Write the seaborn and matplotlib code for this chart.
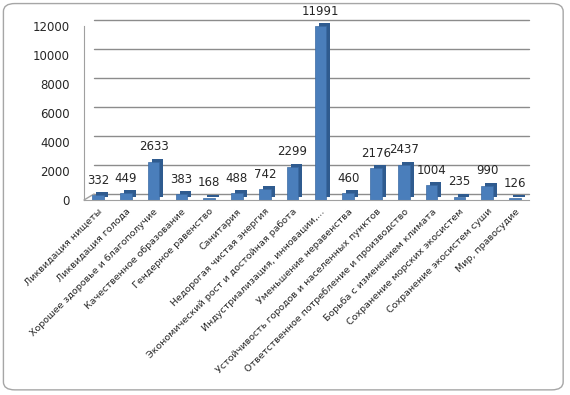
import pandas as pd
import numpy as np
import seaborn as sns
import matplotlib.pyplot as plt
from matplotlib.patches import FancyBboxPatch
from matplotlib.transforms import ScaledTranslation

# -------------------------
# data
# -------------------------
goals = [
    'Ликвидация нищеты',
    'Ликвидация голода',
    'Хорошее здоровье и благополучие',
    'Качественное образование',
    'Гендерное равенство',
    'Санитария',
    'Недорогая чистая энергия',
    'Экономический рост и достойная работа',
    'Индустриализация, инновации,...',
    'Уменьшение неравенства',
    'Устойчивость городов и населенных пунктов',
    'Ответственное потребление и производство',
    'Борьба с изменением климата',
    'Сохранение морских экосистем',
    'Сохранение экосистем суши',
    'Мир, правосудие',
]
counts = [332, 449, 2633, 383, 168, 488, 742, 2299, 11991, 460, 2176, 2437, 1004, 235, 990, 126]
yticks = [0, 2000, 4000, 6000, 8000, 10000, 12000]

df = pd.DataFrame({'goal': goals, 'count': counts})

# -------------------------
# figure
# -------------------------
sns.set_style('white')
plt.rcParams['font.family'] = ['DejaVu Sans']

fig = plt.figure(figsize=(5.7, 3.95), dpi=100)
ax = fig.add_axes([84 / 570, 1 - 200 / 395, 445 / 570, 174 / 395])

# rounded chart border
fig.patches.append(FancyBboxPatch((0.006, 0.013), 0.982, 0.978, boxstyle='round,pad=0,rounding_size=0.02',
                                  transform=fig.transFigure, fill=False, edgecolor='#a6a6a6', linewidth=1.0))

# back wall gridlines (shifted back/up like the 3D wall)
back = ScaledTranslation(10 / 100, 6 / 100, fig.dpi_scale_trans)
for t in yticks:
    ax.plot([0, 1 - 10 / 445], [t, t], color='#8c8c8c', linewidth=1.0, zorder=0,
            transform=ax.get_yaxis_transform() + back, clip_on=False)
ax.plot([0, 10 / 445], [0, 6 / 174], color='#a0a0a0', lw=1, transform=ax.transAxes, clip_on=False, zorder=0)

# depth of the columns: dark copy pushed back, then the front faces
sns.barplot(data=df, x='goal', y='count', color='#2f5b8f', saturation=1, width=0.42,
            linewidth=0, ax=ax)
depth = ScaledTranslation(4 / 100, 3 / 100, fig.dpi_scale_trans)
for p in ax.patches:
    p.set_transform(p.get_data_transform() + depth)
    p.set_zorder(1)
    p.set_clip_on(False)
n_back = len(ax.patches)
sns.barplot(data=df, x='goal', y='count', color='#4a7ebb', saturation=1, width=0.42,
            edgecolor='#3a6aa3', linewidth=0.5, ax=ax)
for p in ax.patches[n_back:]:
    p.set_zorder(2)
    p.set_clip_on(False)

for i, v in enumerate(counts):
    ax.annotate(str(v), (i, v), xytext=(0, 6), textcoords='offset points',
                ha='center', va='bottom', fontsize=8.5)

ax.set_ylim(0, 12000)
ax.set_xlim(-0.5, len(goals) - 0.5)
ax.set_yticks(yticks)
ax.tick_params(axis='y', labelsize=8.5, length=0, pad=10)
ax.grid(False)

ax.set_xticks(range(len(goals)))
ax.set_xticklabels(goals, rotation=45, ha='right', rotation_mode='anchor', fontsize=6.8)
ax.tick_params(axis='x', length=0, pad=5)
# category boundary ticks
ax.set_xticks(np.arange(len(goals) + 1) - 0.5, minor=True)
ax.tick_params(axis='x', which='minor', length=4, color='#8c8c8c', direction='out')

ax.set_xlabel('')
ax.set_ylabel('')
for side in ['top', 'right']:
    ax.spines[side].set_visible(False)
ax.spines['left'].set_color('#a0a0a0')
ax.spines['bottom'].set_color('#a0a0a0')

fig.savefig('out.png', dpi=100)
